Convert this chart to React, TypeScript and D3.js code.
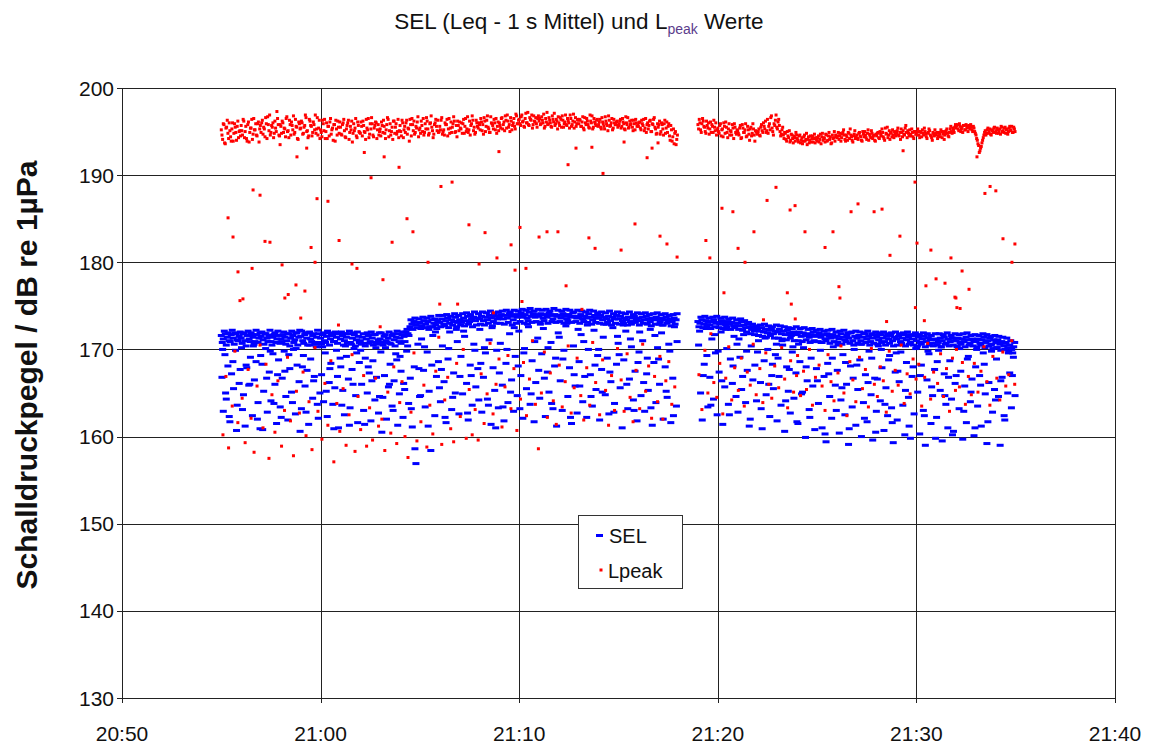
import React from "react";
import * as d3 from "d3";

// Lpeak main band, two interleaved series sampled every 4 s (offset 0 s and 2 s), one row per minute
const lpeakBand1Start = 55; // 20:55:00
const lpeakBand1: number[] = [
  195.2,194.1,195.8,193.6,195.5,194.8,196.0,194.4,195.3,193.9,195.9,194.9,195.6,194.3,195.1,
  195.7,194.6,196.2,195.0,194.2,195.8,193.8,195.4,196.4,194.7,195.2,195.9,194.5,196.1,195.3,
  194.9,196.3,195.5,194.4,195.9,196.7,195.1,194.6,195.7,196.0,194.8,195.4,197.3,195.8,194.5,
  195.6,196.2,194.9,195.3,196.5,195.0,194.3,195.8,196.1,195.2,194.7,196.4,195.5,194.1,195.9,
  195.4,196.0,194.8,195.7,196.6,195.1,194.5,196.2,195.6,194.9,195.8,196.9,195.3,194.6,196.3,
  195.2,194.4,195.9,196.4,195.0,194.2,195.6,196.1,194.7,195.4,195.8,193.9,195.3,196.2,194.8,
  195.5,194.6,196.0,195.1,194.3,195.7,196.3,194.9,195.2,193.8,195.9,195.4,194.5,196.1,195.0,
  194.8,195.6,196.2,195.0,194.1,195.4,196.5,194.7,195.3,195.9,194.4,195.7,196.0,195.2,194.6,
  195.3,196.1,194.9,195.6,194.2,195.8,196.4,195.1,194.6,195.5,196.2,194.8,195.9,195.0,194.3,
  195.7,194.5,196.0,195.2,194.9,196.3,195.4,193.9,195.8,196.5,195.1,194.7,195.6,196.1,194.4,
  195.4,196.2,195.0,194.6,195.9,196.6,195.3,194.8,196.0,195.5,194.3,195.8,196.4,195.1,194.9,
  195.6,196.3,194.7,195.2,196.0,195.8,194.5,196.5,195.4,194.9,195.9,196.2,195.0,194.4,195.7,
  196.1,195.3,194.8,196.4,195.6,195.0,196.7,195.2,194.6,195.9,196.3,195.5,194.9,196.0,195.4,
  195.8,196.5,195.1,194.7,196.2,195.6,196.8,195.3,194.9,196.0,195.7,196.4,195.2,194.8,196.1,
  196.0,195.4,196.6,195.8,195.1,196.3,196.9,195.5,195.0,196.2,195.7,196.5,195.3,196.8,195.9,
  196.4,195.7,196.9,196.2,195.5,197.1,196.0,195.8,196.6,196.3,195.4,196.8,196.1,195.9,196.5,
  196.2,195.8,196.7,196.0,195.4,196.5,197.2,195.9,196.3,195.6,196.8,196.1,195.7,196.4,195.3,
  196.0,196.6,195.5,196.3,195.9,196.9,195.7,196.2,195.4,196.5,195.8,197.0,196.1,195.6,196.4,
  195.9,196.3,195.6,196.7,195.2,196.0,196.5,195.8,195.4,196.2,196.8,195.5,196.1,195.7,196.4,
  195.8,196.4,195.3,196.1,195.6,196.7,195.9,195.1,196.3,195.7,196.5,195.4,196.0,195.8,196.2,
  195.7,196.2,195.4,196.5,195.9,195.2,196.0,196.6,195.5,195.8,196.3,195.1,195.9,196.4,195.6,
  195.6,196.1,195.2,195.9,196.4,195.4,194.9,196.0,195.7,196.3,195.0,195.8,196.6,195.3,194.8,
  195.5,196.2,195.0,195.8,194.6,196.3,195.4,194.9,195.9,194.0,195.2,194.4,193.6,195.0,194.1,
];
const lpeakBand1b: number[] = [
  194.6,195.9,193.7,195.4,196.3,194.2,195.1,193.9,196.0,194.8,195.5,194.0,196.2,195.0,194.5,
  195.1,196.4,194.3,195.6,193.9,196.1,194.9,195.4,194.1,196.5,195.2,194.6,195.9,193.8,195.7,
  196.0,194.7,195.3,196.6,194.2,195.8,196.9,194.9,195.5,194.3,196.2,195.0,196.5,194.6,195.8,
  194.8,196.0,195.4,194.4,196.7,195.1,196.3,194.6,195.7,196.8,194.9,195.6,194.2,196.1,195.3,
  196.2,194.7,195.5,196.9,195.0,194.3,196.4,195.7,194.5,196.1,195.2,194.8,196.6,195.4,194.2,
  194.9,196.3,195.1,194.2,196.0,195.6,194.5,196.5,195.2,194.0,195.8,196.3,194.6,195.5,196.1,
  194.7,195.8,196.4,194.4,195.3,196.0,194.1,195.6,196.2,194.8,195.1,196.5,194.3,195.7,194.9,
  196.1,194.5,195.7,194.9,196.4,195.2,194.3,195.9,196.6,194.6,195.4,196.1,194.2,195.8,195.0,
  194.5,195.7,196.3,194.8,195.2,196.6,194.4,195.9,195.0,194.1,196.2,195.5,194.7,196.4,195.1,
  195.0,196.3,194.3,195.6,196.0,194.7,195.3,196.4,194.5,195.8,196.2,194.9,195.4,196.7,195.2,
  194.8,195.7,196.5,194.9,195.3,196.2,194.6,195.9,196.8,195.1,194.7,196.0,195.6,196.3,195.0,
  195.2,196.6,195.0,194.6,195.8,196.4,195.3,194.8,196.1,195.5,196.7,194.9,195.7,196.2,195.1,
  195.4,196.0,195.9,194.8,196.5,195.3,194.9,196.2,195.7,196.8,195.1,194.7,196.3,195.6,196.0,
  195.2,196.1,195.8,196.6,195.0,196.3,195.5,194.9,196.7,195.9,195.3,196.0,196.5,195.6,195.1,
  195.7,196.5,195.3,196.1,196.8,195.4,196.2,195.8,196.6,195.2,196.0,195.6,197.0,195.9,196.3,
  195.9,196.7,196.1,195.6,196.5,196.0,197.2,195.7,196.4,196.9,195.8,196.2,196.6,195.5,196.8,
  196.5,195.9,196.3,197.0,195.6,196.1,195.8,196.6,196.0,195.5,196.4,197.1,195.9,196.2,196.7,
  195.7,196.4,196.8,195.5,196.1,195.8,196.5,196.0,196.9,195.6,196.2,195.4,196.6,195.9,196.3,
  196.4,195.6,196.1,195.4,196.6,195.8,196.2,195.5,196.9,196.0,195.3,196.5,195.9,196.3,195.6,
  196.1,195.5,196.6,195.9,195.3,196.2,195.7,196.8,195.6,196.0,195.2,196.4,195.8,196.1,195.5,
  195.9,196.4,195.6,196.1,195.3,196.7,195.8,195.4,196.2,195.9,195.5,196.3,195.2,196.0,195.7,
  196.0,195.4,196.3,195.7,195.1,196.5,195.8,195.3,196.2,195.0,195.9,196.4,195.5,194.7,195.9,
  195.8,194.7,196.0,195.3,195.9,194.8,196.1,195.6,194.5,195.7,193.9,195.3,194.8,193.5,194.6,
];

const lpeakBand2Start = 79; // 21:19:00
const lpeakBand2: number[] = [
  195.8,196.4,195.2,195.9,196.2,195.5,194.8,195.7,196.0,195.3,194.9,195.6,196.3,195.1,194.6,
  195.4,194.8,195.9,195.2,194.4,195.6,196.1,194.9,195.3,194.6,195.0,195.8,194.2,195.5,194.7,
  195.1,194.6,195.7,194.3,195.4,194.9,195.9,194.5,195.2,194.0,195.5,194.8,195.3,193.9,195.0,
  194.7,195.3,194.5,195.8,194.9,195.6,196.2,195.1,194.8,195.9,196.6,195.4,194.6,195.7,196.9,
  195.3,196.4,195.0,194.7,195.5,194.2,194.8,193.9,194.5,195.1,194.0,194.6,193.7,194.3,194.9,
  194.2,193.8,194.6,194.0,193.6,194.4,193.9,194.8,194.1,193.7,194.5,194.2,193.8,194.7,194.3,
  193.9,194.5,194.1,193.6,194.8,194.3,193.8,194.6,194.0,194.9,194.4,193.7,194.2,195.0,194.6,
  194.3,194.9,194.5,193.9,194.7,195.2,194.1,194.6,194.0,194.8,195.3,194.4,193.8,194.7,194.2,
  194.6,194.1,194.9,194.4,193.9,194.7,195.0,194.3,194.8,194.0,194.5,195.1,194.2,194.6,193.9,
  194.5,194.9,194.2,194.7,195.3,194.4,194.0,194.8,195.5,194.6,194.1,194.9,195.2,194.3,194.7,
  194.8,195.4,194.5,194.1,194.9,195.1,194.6,195.7,194.3,194.8,195.2,194.5,194.9,194.2,195.0,
  194.9,195.3,194.6,195.0,194.4,194.8,195.4,194.7,194.2,194.9,195.1,194.5,194.0,194.7,195.2,
  194.6,194.2,194.9,194.4,195.0,194.7,194.1,194.8,195.3,194.5,194.9,195.6,194.8,195.2,195.5,
  195.4,195.8,195.1,195.6,195.3,194.9,195.7,195.2,195.6,195.0,195.5,195.8,195.2,195.6,195.0,
  194.6,194.0,193.4,192.8,193.3,194.0,194.6,195.1,194.8,195.4,195.0,194.7,195.2,194.9,195.5,
  195.1,195.4,194.8,195.3,195.6,195.0,194.9,195.5,195.2,194.7,195.4,195.1,195.6,194.9,195.3,
];
const lpeakBand2b: number[] = [
  195.3,196.0,194.9,196.5,195.6,195.0,196.2,195.4,194.7,196.1,195.8,194.9,195.5,196.0,195.2,
  195.0,195.7,194.5,195.3,196.0,194.8,195.5,194.3,195.9,195.1,194.6,195.4,195.9,194.9,195.2,
  194.8,195.4,194.2,195.8,194.9,195.2,194.4,195.6,194.7,195.3,194.5,195.9,194.6,195.1,194.8,
  195.0,194.6,195.5,195.1,196.0,195.3,194.9,196.4,195.6,195.2,196.8,195.0,195.9,196.3,195.5,
  196.1,195.7,194.5,195.2,194.6,194.9,194.1,195.0,194.3,193.8,194.7,194.2,194.5,193.9,194.6,
  194.0,194.5,193.7,194.3,193.9,194.6,194.1,193.5,194.4,194.0,193.8,194.5,194.2,193.7,194.1,
  194.3,193.8,194.7,194.4,194.0,194.2,194.7,193.9,194.5,194.1,193.6,194.6,194.3,193.9,194.4,
  194.5,194.1,194.8,194.3,194.9,194.6,193.9,194.4,194.9,194.2,194.6,194.0,194.5,195.1,194.4,
  194.2,194.8,194.5,194.0,195.0,194.4,194.6,194.1,195.2,194.7,194.3,194.8,194.5,194.0,194.7,
  194.8,194.3,195.0,194.5,194.9,194.2,195.4,194.7,194.3,195.1,194.8,194.4,194.6,195.0,194.5,
  195.1,194.6,194.9,195.3,194.4,194.7,195.4,194.9,195.1,194.5,194.7,195.3,194.4,195.0,194.7,
  194.6,195.0,194.3,194.9,195.2,194.6,195.0,194.4,194.8,195.3,194.6,194.3,194.9,194.5,194.8,
  194.9,194.5,194.7,195.2,194.3,195.0,194.6,195.1,194.8,194.4,195.3,195.0,195.4,194.9,195.8,
  195.7,195.3,195.9,195.0,195.5,195.7,195.2,195.8,195.4,195.7,195.3,195.5,195.0,195.4,194.8,
  194.2,193.6,192.6,193.1,193.7,194.3,194.9,194.6,195.2,194.8,195.3,194.6,195.1,195.4,194.9,
  194.8,195.2,195.0,194.7,195.5,195.1,195.4,194.8,195.3,195.0,195.6,195.2,194.9,195.5,195.0,
];

// SEL main band, two interleaved series sampled every 6 s (offset 0 s and 3 s), one row per minute
const selBand1Start = 55;
const selBand1: number[] = [
  171.6,171.2,171.8,171.4,171.0,171.7,171.3,171.9,171.1,171.5,
  171.3,171.8,171.0,171.6,171.2,171.9,171.4,170.9,171.7,171.3,
  171.5,171.1,171.8,171.3,171.6,170.9,171.4,171.9,171.2,171.6,
  171.2,171.7,171.4,171.0,171.8,171.3,171.6,171.1,171.9,171.4,
  171.5,171.0,171.7,171.3,171.9,171.2,171.6,170.8,171.4,171.8,
  171.3,171.7,171.0,171.5,171.9,171.2,171.6,170.9,171.4,171.8,
  171.2,171.6,171.0,171.4,171.8,170.8,171.3,171.7,171.1,171.5,
  171.0,171.4,170.7,171.2,171.6,170.9,171.3,171.7,170.8,171.1,
  171.2,170.8,171.5,171.0,171.3,170.7,171.6,171.1,171.4,171.8,
  171.3,171.7,171.5,172.0,171.8,172.6,172.9,173.2,172.8,173.1,
  173.0,172.7,173.3,172.9,173.2,172.6,173.4,173.0,172.8,173.3,
  173.1,173.5,172.9,173.3,173.6,173.0,173.4,173.2,173.7,173.1,
  173.4,173.1,173.6,173.3,173.8,173.2,173.5,173.7,173.3,173.6,
  173.5,173.8,173.3,173.7,173.4,173.9,173.6,173.2,173.8,173.5,
  173.7,174.0,173.5,173.9,173.6,174.1,173.8,173.4,174.0,173.7,
  173.9,174.2,173.7,174.0,173.6,174.3,173.8,174.1,173.7,174.0,
  173.8,174.1,173.6,174.0,173.7,174.2,173.9,173.5,174.0,173.8,
  173.9,173.6,174.1,173.8,173.5,174.0,173.7,174.2,173.8,173.6,
  173.7,174.0,173.5,173.8,173.6,174.1,173.7,173.4,173.9,173.6,
  173.6,173.9,173.4,173.7,173.5,173.8,173.3,173.7,173.5,173.9,
  173.5,173.8,173.3,173.6,173.4,173.7,173.2,173.6,173.8,173.4,
  173.6,173.3,173.7,173.4,173.8,173.5,173.2,173.6,173.4,173.7,
  173.5,173.2,173.6,173.4,173.7,173.3,173.5,173.2,173.6,173.4,
];
const selBand1b: number[] = [
  170.8,172.1,170.5,171.9,170.9,172.2,170.6,171.8,171.0,172.0,
  170.7,171.9,170.4,172.1,170.9,171.7,170.6,172.2,170.8,171.9,
  172.0,170.6,171.8,170.9,172.2,170.5,171.7,170.8,172.1,170.7,
  170.9,172.0,170.6,171.8,170.4,172.1,170.8,171.9,170.5,172.2,
  172.1,170.7,171.9,170.5,172.0,170.9,171.8,170.6,172.2,170.8,
  170.6,171.9,170.8,172.1,170.5,171.8,170.9,172.0,170.7,171.9,
  172.0,170.5,171.8,170.7,172.1,170.6,171.9,170.4,172.0,170.8,
  170.6,171.8,170.4,171.9,170.7,172.0,170.5,171.7,170.6,171.9,
  171.9,170.5,171.7,170.8,172.0,170.6,171.8,170.4,172.1,170.9,
  170.7,172.0,170.9,172.3,171.6,173.4,172.3,173.6,172.5,173.5,
  172.4,173.7,172.5,173.6,172.3,173.8,172.6,173.5,172.4,173.9,
  172.6,173.9,172.7,174.0,172.5,173.8,172.8,174.1,172.6,173.9,
  172.8,174.1,172.7,174.2,172.9,174.0,172.6,174.3,172.8,174.1,
  172.9,174.3,172.8,174.2,173.0,174.4,172.7,174.1,173.0,174.3,
  173.0,174.4,172.9,174.5,173.1,174.3,172.8,174.5,173.0,174.4,
  173.2,174.6,173.0,174.5,173.3,174.7,173.1,174.4,173.2,174.6,
  173.1,174.5,173.3,174.6,173.0,174.4,173.2,174.7,173.1,174.5,
  173.2,174.4,173.0,174.6,173.3,174.5,173.1,174.3,173.2,174.5,
  173.0,174.4,173.2,174.3,173.1,174.5,172.9,174.4,173.1,174.2,
  173.0,174.3,172.9,174.2,173.1,174.4,172.8,174.1,173.0,174.3,
  172.9,174.2,173.0,174.1,172.8,174.3,172.9,174.0,173.1,174.2,
  172.8,174.1,173.0,174.2,172.9,174.0,172.7,174.1,172.9,174.2,
  172.9,174.0,172.8,174.1,173.0,173.9,172.7,174.0,172.9,174.1,
];

const selBand2Start = 79;
const selBand2: number[] = [
  173.2,173.0,173.4,172.9,173.3,173.1,172.8,173.2,173.4,173.0,
  173.1,172.9,173.3,173.0,172.8,173.2,172.9,173.1,172.7,173.0,
  173.0,172.7,173.2,172.8,172.5,172.9,172.6,172.3,172.6,172.2,
  172.4,172.1,172.5,172.0,172.3,171.9,172.2,172.4,171.8,172.1,
  172.0,172.3,171.8,172.1,171.7,172.2,171.9,171.6,172.0,171.8,
  171.7,172.0,171.5,171.9,171.6,171.8,171.4,171.7,172.0,171.5,
  171.6,171.9,171.4,171.7,171.2,171.8,171.5,171.3,171.7,171.4,
  171.5,171.2,171.8,171.4,171.1,171.6,171.3,171.9,171.0,171.5,
  171.3,171.6,171.0,171.4,171.8,171.2,171.5,170.9,171.3,171.7,
  171.4,171.1,171.7,171.3,170.9,171.5,171.2,171.6,171.0,171.4,
  171.2,171.5,170.9,171.3,171.7,171.1,171.4,170.8,171.2,171.6,
  171.0,171.4,170.8,171.2,171.5,170.9,171.3,171.1,170.7,171.2,
  171.1,170.8,171.3,171.0,171.4,170.7,171.2,170.9,171.3,171.0,
  171.0,171.3,170.8,171.2,170.9,171.4,171.1,170.7,171.2,171.0,
  170.9,171.2,170.7,171.1,171.4,170.8,171.0,171.3,170.6,171.1,
  170.8,171.1,170.6,170.9,170.4,170.7,170.2,170.5,170.0,170.3,
];
const selBand2b: number[] = [
  172.6,173.7,172.5,173.8,172.7,173.6,172.4,173.7,172.6,173.8,
  172.5,173.6,172.4,173.7,172.6,173.5,172.3,173.6,172.5,173.4,
  172.3,173.5,172.2,173.3,172.0,173.1,171.8,172.9,171.7,172.7,
  171.6,172.8,171.5,172.9,171.4,172.7,171.6,172.6,171.3,172.8,
  171.3,172.7,171.2,172.6,171.1,172.5,171.3,172.4,171.0,172.6,
  171.0,172.4,170.9,172.5,171.1,172.3,170.8,172.4,171.0,172.2,
  170.9,172.3,170.8,172.1,171.0,172.2,170.7,172.3,170.9,172.0,
  170.8,172.1,170.6,172.2,170.9,171.9,170.7,172.0,170.5,172.1,
  170.7,172.0,170.6,171.9,170.8,172.1,170.5,171.8,170.7,172.0,
  170.6,171.9,170.8,172.0,170.5,171.8,170.7,171.9,170.4,172.0,
  170.5,171.8,170.7,171.9,170.4,172.0,170.6,171.7,170.5,171.9,
  170.4,171.7,170.6,171.9,170.3,171.8,170.5,171.6,170.4,171.8,
  170.5,171.8,170.3,171.7,170.6,171.9,170.4,171.6,170.5,171.8,
  170.4,171.7,170.6,171.8,170.3,171.9,170.5,171.6,170.4,171.7,
  170.3,171.6,170.5,171.8,170.2,171.7,170.4,171.5,170.1,171.6,
  170.2,171.5,169.9,171.4,170.0,171.3,169.8,171.0,169.6,170.8,
];

// SEL seconds below the main band: [minute after 20:00, second, dB, second, dB, ...]
const selLow: number[][] = [
  [55, 2,166.8, 6,162.9, 11,169.4, 15,164.3, 20,168.1, 26,161.7, 31,167.2, 37,165.5, 43,169.9, 48,163.6, 54,166.1],
  [56, 1,170.2, 7,164.8, 12,161.2, 17,167.9, 23,165.9, 28,169.1, 34,162.4, 40,166.5, 45,168.6, 51,163.9, 57,160.9],
  [57, 3,168.3, 8,165.2, 14,170.1, 19,162.8, 25,167.4, 30,164.1, 36,169.5, 42,166.0, 47,161.5, 53,168.8, 58,163.4],
  [58, 4,166.7, 10,169.8, 15,164.6, 21,161.9, 27,167.8, 32,165.1, 38,170.0, 44,162.6, 49,168.2, 55,166.3],
  [59, 2,163.2, 8,169.3, 13,165.8, 19,167.6, 24,161.4, 30,168.9, 36,164.4, 41,166.9, 47,170.3, 53,162.1, 58,165.0],
  [60, 3,167.1, 9,164.0, 14,169.6, 20,162.3, 26,166.2, 31,168.4, 37,163.7, 43,165.6, 48,169.9, 54,161.0],
  [61, 1,168.0, 7,165.3, 12,162.5, 18,169.2, 24,166.6, 29,163.3, 35,167.7, 41,170.1, 46,164.7, 52,161.6, 57,168.5],
  [62, 4,166.0, 10,163.0, 15,169.0, 21,165.0, 27,167.3, 32,161.8, 38,168.7, 44,164.2, 49,166.8, 55,162.7],
  [63, 2,169.7, 8,164.5, 13,167.0, 19,162.0, 25,165.7, 30,168.3, 36,163.5, 42,166.4, 47,169.5, 53,161.3, 58,164.9],
  [64, 3,167.5, 9,162.2, 14,165.4, 20,169.8, 26,163.8, 31,166.7, 37,161.1, 43,168.0, 48,156.9, 54,170.6, 59,164.6],
  [65, 5,171.2, 11,167.6, 16,163.4, 22,169.7, 28,165.2, 33,158.4, 39,171.6, 45,162.4, 50,166.9, 56,168.6],
  [66, 2,164.0, 8,170.4, 13,166.3, 19,161.6, 25,168.9, 30,172.0, 36,163.1, 42,167.3, 47,165.0, 53,170.9, 58,162.6],
  [67, 4,169.2, 9,164.9, 15,171.5, 21,166.1, 26,161.9, 32,168.2, 38,163.6, 43,170.6, 49,165.7, 55,167.8],
  [68, 1,172.3, 7,162.8, 12,166.8, 18,169.6, 24,164.3, 29,171.1, 35,161.4, 41,167.9, 46,165.3, 52,169.9, 57,163.3],
  [69, 3,170.7, 9,165.9, 14,161.8, 20,168.4, 26,163.9, 31,171.8, 37,166.5, 43,162.9, 48,169.2, 54,164.7, 59,172.1],
  [70, 5,167.0, 11,162.1, 16,170.1, 22,165.5, 28,172.6, 33,163.7, 39,168.7, 45,161.7, 50,166.2, 56,171.3],
  [71, 2,164.4, 8,169.5, 13,172.4, 19,162.3, 25,167.4, 30,165.1, 36,170.8, 42,163.2, 47,168.1, 53,161.2, 58,171.9],
  [72, 4,166.4, 10,163.0, 15,169.9, 21,172.7, 27,164.6, 32,167.9, 38,161.5, 44,170.4, 49,165.8, 55,162.7],
  [73, 1,168.6, 7,171.7, 12,164.0, 18,166.9, 24,162.2, 29,170.0, 35,167.1, 41,163.5, 46,172.2, 52,165.4, 57,169.3],
  [74, 3,161.9, 9,167.7, 14,171.4, 20,164.8, 26,169.0, 31,162.6, 37,166.3, 43,172.5, 48,163.8, 54,168.3, 59,170.7],
  [75, 5,165.6, 11,161.0, 16,168.8, 22,172.1, 28,163.2, 33,166.6, 39,170.3, 45,164.2, 50,167.5, 56,161.8],
  [76, 2,169.7, 8,164.7, 13,171.0, 19,162.9, 25,167.2, 30,165.3, 36,172.3, 42,161.3, 47,168.5, 53,163.9, 58,170.2],
  [77, 4,166.0, 10,171.9, 15,162.0, 21,168.0, 27,164.5, 32,170.6, 38,161.6, 44,166.7, 49,172.6, 55,163.5],
  [79, 2,170.5, 8,165.0, 13,161.9, 19,168.3, 25,172.4, 30,163.4, 36,166.8, 42,171.2, 47,164.3, 53,169.6, 58,162.5],
  [80, 4,167.4, 10,172.0, 15,161.4, 21,165.7, 27,170.1, 32,163.7, 38,168.9, 44,166.1, 49,171.5, 55,164.6],
  [81, 1,162.8, 7,169.1, 12,165.4, 18,171.7, 24,163.9, 29,167.6, 35,161.2, 41,170.4, 46,166.5, 52,168.2, 57,164.1],
  [82, 3,171.0, 9,166.2, 14,160.9, 20,168.7, 26,164.8, 31,170.0, 37,162.3, 43,167.0, 48,165.5, 54,169.4, 59,161.8],
  [83, 5,166.9, 11,163.6, 16,170.5, 22,160.6, 28,168.0, 33,165.2, 39,162.7, 45,169.7, 50,164.4, 56,167.3],
  [84, 2,161.5, 8,168.6, 13,164.9, 19,170.2, 25,159.9, 30,166.4, 36,163.1, 42,169.0, 47,165.8, 53,160.8, 58,167.8],
  [85, 4,163.8, 10,169.9, 15,161.0, 21,166.9, 27,159.4, 32,168.4, 38,164.6, 44,162.1, 49,170.3, 55,165.9],
  [86, 1,167.6, 7,160.4, 12,164.2, 18,169.4, 24,162.5, 29,166.0, 35,159.1, 41,168.1, 46,163.4, 52,170.0, 57,161.3],
  [87, 3,165.4, 9,168.8, 14,160.0, 20,163.9, 26,167.1, 31,161.7, 37,169.8, 43,164.8, 48,159.6, 54,166.7, 59,162.9],
  [88, 5,170.4, 11,164.1, 16,167.9, 22,160.7, 28,165.6, 33,162.4, 39,169.3, 45,163.3, 50,159.3, 56,167.4],
  [89, 2,161.9, 8,166.3, 13,169.7, 19,163.6, 25,160.2, 30,168.5, 36,164.5, 42,159.8, 47,166.9, 53,162.6, 58,170.1],
  [90, 4,165.1, 10,160.3, 15,168.2, 21,163.0, 27,159.0, 32,166.5, 38,169.5, 44,161.5, 49,164.7, 55,167.7],
  [91, 1,162.2, 7,169.9, 12,165.3, 18,159.5, 24,167.2, 29,163.7, 35,161.0, 41,168.7, 46,164.3, 52,160.6, 57,166.1],
  [92, 3,170.3, 9,163.2, 14,167.5, 20,159.7, 26,165.8, 31,161.6, 37,169.2, 43,164.0, 48,166.6, 54,160.1, 59,168.0],
  [93, 5,163.5, 11,167.0, 16,161.2, 22,169.6, 28,164.9, 33,159.2, 39,166.2, 45,170.5, 50,162.8, 56,165.4],
  [94, 2,168.9, 8,164.6, 13,159.0, 19,166.8, 25,162.4, 30,170.8, 36,165.0, 42,167.3, 47,163.3, 53,169.1, 58,164.7],
];
const selLow2: number[][] = [
  [55, 4,170.0, 13,165.0, 24,162.3, 35,168.6, 46,160.7, 57,167.7],
  [56, 4,163.1, 15,168.2, 26,166.0, 37,170.4, 49,162.0, 59,169.3],
  [57, 5,160.8, 17,166.7, 28,169.8, 39,163.8, 50,167.1],
  [58, 1,162.2, 12,167.5, 24,169.4, 35,163.9, 46,170.1, 58,160.6],
  [59, 5,168.0, 16,162.8, 27,170.5, 39,166.4, 50,163.7],
  [60, 6,170.3, 17,165.2, 28,167.8, 40,160.9, 51,166.9, 59,169.0],
  [61, 4,163.6, 15,170.4, 27,161.3, 38,166.0, 49,169.6],
  [62, 1,169.9, 13,161.4, 24,168.0, 35,166.4, 47,170.2, 58,164.6],
  [63, 5,160.5, 16,170.2, 28,166.0, 39,163.0, 50,168.8],
  [64, 0,169.2, 11,166.1, 23,170.4, 34,163.2, 45,158.6, 57,167.8],
  [65, 2,164.7, 14,170.3, 25,161.2, 36,168.2, 47,172.0, 59,165.6],
  [66, 5,167.7, 16,162.2, 27,170.1, 39,164.5, 50,172.3],
  [67, 1,166.9, 12,172.1, 24,162.7, 35,167.0, 46,169.9, 58,164.2],
  [68, 4,168.4, 15,170.2, 27,163.6, 38,172.5, 49,161.0],
  [69, 0,167.3, 11,163.4, 23,170.0, 34,165.1, 45,172.5, 57,168.1],
  [70, 2,163.2, 14,169.6, 25,172.9, 36,164.9, 47,170.9, 59,167.6],
  [71, 4,172.9, 16,166.7, 27,170.2, 38,163.8, 50,169.0],
  [72, 1,171.4, 12,168.9, 24,173.0, 35,162.2, 46,167.1, 58,172.3],
  [73, 3,165.8, 15,170.9, 26,172.8, 37,164.6, 49,168.2],
  [74, 0,170.0, 11,165.1, 23,172.9, 34,167.4, 46,162.8, 57,171.5],
  [75, 2,169.4, 14,172.8, 25,166.0, 36,171.2, 47,163.0, 59,168.5],
  [76, 4,172.0, 16,166.2, 27,169.0, 38,163.3, 50,171.6],
  [77, 1,168.9, 12,172.8, 24,165.2, 35,169.8, 46,162.4, 57,170.9],
  [79, 5,172.1, 16,167.0, 27,169.3, 39,163.6, 50,171.7],
  [80, 1,169.8, 12,166.4, 24,172.3, 35,162.5, 46,168.1, 58,170.6],
  [81, 4,171.2, 15,166.9, 27,169.8, 38,162.0, 50,172.1],
  [82, 0,169.7, 11,163.2, 23,171.3, 34,166.0, 45,168.3, 57,170.6],
  [83, 2,169.0, 14,171.0, 25,164.1, 36,167.7, 47,170.3, 59,161.7],
  [84, 4,170.6, 16,165.1, 27,168.0, 38,162.2, 50,170.9],
  [85, 1,166.4, 12,170.8, 24,160.3, 35,167.2, 46,169.0, 58,163.0],
  [86, 3,170.5, 15,165.6, 26,168.5, 37,160.9, 49,166.7],
  [87, 0,168.2, 11,170.6, 23,162.1, 34,166.2, 45,169.0, 57,160.5],
  [88, 2,166.6, 14,170.0, 25,163.7, 36,168.8, 47,161.6, 59,169.6],
  [89, 4,167.5, 16,170.6, 27,165.3, 38,161.2, 50,168.0],
  [90, 1,170.2, 12,167.0, 24,162.4, 35,169.8, 46,165.7, 58,159.8],
  [91, 3,168.6, 15,170.3, 26,164.7, 37,166.8, 49,160.2],
  [92, 0,167.0, 11,170.1, 23,162.9, 34,168.9, 45,165.1, 57,161.0],
  [93, 2,170.0, 14,165.9, 25,168.3, 36,161.7, 47,169.8, 59,164.2],
  [94, 4,170.2, 15,166.4, 27,161.9, 38,169.6, 50,167.0],
];

// Lpeak seconds that fall into the SEL range: [minute, second, dB, ...]
const lpeakLow: number[][] = [
  [55, 5,160.2, 14,166.9, 22,158.7, 33,163.5, 41,169.8, 50,161.6],
  [56, 3,164.4, 12,159.3, 21,167.7, 30,162.1, 39,158.2, 48,165.8, 57,170.5],
  [57, 6,161.0, 15,168.3, 24,157.5, 33,164.8, 42,160.5, 51,166.4],
  [58, 2,158.9, 11,163.0, 20,169.1, 29,161.8, 38,157.8, 47,165.2, 56,162.7],
  [59, 7,167.4, 16,160.1, 25,164.0, 34,158.5, 43,170.2, 52,162.9],
  [60, 4,159.7, 13,166.1, 22,161.3, 31,168.7, 40,157.1, 49,163.8, 58,160.6],
  [61, 8,165.5, 17,159.0, 26,162.5, 35,169.4, 44,158.3, 53,164.6],
  [62, 1,160.8, 10,167.0, 19,158.9, 28,163.3, 37,159.6, 46,166.7, 55,161.2],
  [63, 5,162.0, 14,158.4, 23,165.1, 32,160.4, 41,168.0, 50,159.2, 59,163.9],
  [64, 6,166.3, 15,160.0, 24,157.6, 33,162.8, 42,169.6, 51,159.5],
  [65, 3,161.7, 12,165.9, 21,158.8, 30,163.6, 39,160.3, 48,167.5, 57,171.4],
  [66, 6,159.1, 15,164.2, 24,166.8, 33,160.9, 42,159.4, 51,168.4],
  [67, 2,162.3, 11,170.0, 20,159.8, 29,165.4, 38,160.2, 47,163.1, 56,159.6],
  [68, 5,167.2, 14,161.5, 23,164.9, 32,170.7, 41,162.6, 50,166.0, 59,168.9],
  [69, 8,161.1, 17,165.7, 26,169.3, 35,163.2, 44,167.8, 53,160.7],
  [70, 4,164.3, 13,168.5, 22,162.4, 31,166.6, 40,171.0, 49,163.7, 58,158.6],
  [71, 7,165.0, 16,169.7, 25,162.2, 34,167.3, 43,164.1, 52,161.4],
  [72, 1,168.2, 10,163.4, 19,166.3, 28,170.4, 37,162.7, 46,165.6, 55,169.0],
  [73, 6,164.7, 15,161.9, 24,167.9, 33,163.6, 42,170.8, 51,166.2],
  [74, 3,162.5, 12,168.8, 21,165.3, 30,161.3, 39,167.0, 48,163.0, 57,170.1],
  [75, 8,166.5, 17,162.9, 26,169.5, 35,164.5, 44,161.7, 53,167.6],
  [76, 4,163.2, 13,170.6, 22,165.2, 31,168.1, 40,162.1, 49,166.9, 58,164.0],
  [77, 5,169.2, 14,162.0, 23,166.4, 32,168.6, 41,163.7, 50,165.7],
  [79, 3,167.1, 12,163.1, 21,169.9, 30,165.0, 39,171.8, 48,166.2, 57,164.5],
  [80, 6,168.4, 15,162.6, 24,166.7, 33,170.3, 42,164.2, 51,167.9],
  [81, 2,165.3, 11,169.0, 20,163.5, 29,167.4, 38,165.9, 47,170.6, 56,164.8],
  [82, 7,167.8, 16,163.9, 25,169.6, 34,166.0, 43,164.4, 52,168.1],
  [83, 4,165.6, 13,170.2, 22,166.6, 31,163.3, 40,168.7, 49,165.1, 58,167.0],
  [84, 1,169.3, 10,164.7, 19,167.5, 28,165.4, 37,170.0, 46,163.6, 55,166.8],
  [85, 6,168.2, 15,165.8, 24,163.0, 33,169.4, 42,166.3, 51,164.1],
  [86, 3,167.3, 12,170.4, 21,165.0, 30,162.4, 39,168.6, 48,166.5, 57,164.0],
  [87, 8,169.1, 17,165.5, 26,167.7, 35,163.4, 44,170.1, 53,166.0],
  [88, 2,164.6, 11,168.0, 20,166.4, 29,162.8, 38,169.8, 47,165.2, 56,167.6],
  [89, 5,165.9, 14,170.5, 23,163.8, 32,167.2, 41,164.9, 50,168.9, 59,166.6],
  [90, 7,168.3, 16,163.5, 25,166.8, 34,170.7, 43,164.3, 52,167.4],
  [91, 4,166.1, 13,169.5, 22,164.6, 31,167.8, 40,162.9, 49,169.0, 58,165.3],
  [92, 1,170.0, 10,165.7, 19,168.5, 28,163.7, 37,166.9, 46,164.8, 55,168.4],
  [93, 6,165.1, 15,167.5, 24,170.3, 33,166.3, 42,163.6, 51,169.2],
  [94, 3,166.7, 12,164.2, 21,169.7, 30,165.8, 39,167.1, 48,171.0, 57,166.0],
];

// Isolated Lpeak values between the two bands: [minute after 20:00 (decimal), dB]
const lpeakMid: [number, number][] = [
  [55.34,185.1],[55.59,182.9],[55.84,178.9],[55.94,175.6],[56.09,175.8],[56.55,179.3],[56.6,188.3],
  [56.95,187.7],[57.2,182.4],[57.45,182.3],[57.96,193.5],[58.06,179.7],[58.2,175.9],[58.37,176.3],
  [58.76,177.4],[58.81,192.1],[59.0,173.6],[59.21,176.7],[59.3,193.1],[59.52,181.7],[59.72,180.0],
  [59.82,187.3],[60.37,187.0],[60.9,172.8],[60.93,182.5],[61.58,179.8],[61.83,179.3],[62.2,192.6],
  [62.54,189.7],[63.0,172.6],[63.14,178.0],[63.2,192.1],[63.6,182.3],[63.95,190.9],[64.35,185.0],
  [64.65,183.5],[65.41,180.0],[66.0,175.2],[66.06,188.7],[66.62,189.2],[66.9,175.2],[67.47,184.3],
  [67.98,179.8],[68.28,183.4],[68.7,174.2],[68.88,180.5],[68.98,192.7],[69.59,182.0],[69.79,179.1],
  [70.04,184.0],[70.14,175.5],[70.34,179.3],[71.0,182.9],[71.4,183.5],[71.95,183.5],[72.36,177.3],
  [72.46,191.2],[72.86,193.1],[73.16,174.6],[73.51,182.8],[73.66,193.2],[73.82,181.6],[74.22,190.2],
  [75.13,181.4],[75.28,193.8],[75.83,184.4],[76.44,192.0],[76.69,193.1],[76.99,193.7],[77.09,183.0],
  [77.44,182.1],[77.95,180.6],
  [79.4,182.5],[79.6,180.5],[80.21,186.2],[80.31,176.5],[80.76,185.8],[81.02,181.6],[81.37,180.0],
  [81.82,183.5],[82.3,173.4],[82.48,187.1],[82.93,188.6],[83.5,176.5],[83.64,186.0],[83.7,175.2],
  [83.89,186.5],[83.9,173.5],[84.39,183.5],[85.4,181.7],[85.8,183.5],[86.1,177.2],[86.15,175.9],
  [86.71,185.8],[87.06,186.7],[87.87,185.8],[88.27,186.1],[88.5,173.2],[88.67,180.8],[89.17,183.0],
  [89.33,192.8],[89.93,189.2],[89.95,174.8],[90.03,182.2],[90.4,173.3],[90.48,177.3],[90.73,181.4],
  [90.99,178.1],[91.44,177.6],[91.74,180.5],[91.94,176.0],[91.99,175.9],[92.04,174.8],[92.2,174.7],
  [92.3,179.0],[92.65,176.9],[93.05,192.1],[93.45,187.9],[93.71,188.7],[94.0,188.2],[94.36,182.7],
  [94.81,180.0],[94.96,182.1],
];

const yTicks = [130, 140, 150, 160, 170, 180, 190, 200];

type Pt = { t: Date; v: number };

const base = new Date(2000, 0, 1, 20, 0, 0).getTime();
const at = (minutes: number) => new Date(base + Math.round(minutes * 60000));

const fromBand = (start: number, stepSec: number, values: number[]): Pt[] =>
  values.map((v, i) => ({ t: at(start + (i * stepSec) / 60), v }));

const fromRows = (rows: number[][]): Pt[] =>
  rows.flatMap(([minute, ...rest]) => {
    const out: Pt[] = [];
    for (let i = 0; i + 1 < rest.length; i += 2) out.push({ t: at(minute + rest[i] / 60), v: rest[i + 1] });
    return out;
  });

const selPoints: Pt[] = [
  ...fromRows(selLow),
  ...fromRows(selLow2),
  ...fromBand(selBand1Start, 6, selBand1),
  ...fromBand(selBand1Start + 3 / 60, 6, selBand1b),
  ...fromBand(selBand2Start, 6, selBand2),
  ...fromBand(selBand2Start + 3 / 60, 6, selBand2b),
];
const lpeakPoints: Pt[] = [
  ...fromBand(lpeakBand1Start, 4, lpeakBand1),
  ...fromBand(lpeakBand1Start + 2 / 60, 4, lpeakBand1b),
  ...fromBand(lpeakBand2Start, 4, lpeakBand2),
  ...fromBand(lpeakBand2Start + 2 / 60, 4, lpeakBand2b),
  ...fromRows(lpeakLow),
  ...lpeakMid.map(([m, v]) => ({ t: at(m), v })),
];

const PLOT = { left: 122, right: 1115, top: 88, bottom: 698 };
const FONT = "'Liberation Sans', Arial, sans-serif";
const SEL_COLOR = "#0000ff";
const LPEAK_COLOR = "#ff0000";
const GRID = "#222";
const SEL_W = 7, SEL_H = 3, LP = 3;

export default function App() {
  const x = d3.scaleTime().domain([at(50), at(100)]).range([PLOT.left, PLOT.right]);
  const y = d3.scaleLinear().domain([130, 200]).range([PLOT.bottom, PLOT.top]);
  const xTicks = x.ticks(d3.timeMinute.every(10)!);
  const fmt = d3.timeFormat("%H:%M");
  const snap = (v: number) => Math.round(v) + 0.5;

  return (
    <div style={{ position: "absolute", left: 0, top: 0 }}>
      <svg width={1152} height={746} style={{ display: "block", background: "#fff" }}>
        <text x={579} y={29} textAnchor="middle" fontFamily={FONT} fontSize={22.5} fill="#111">
          SEL (Leq - 1 s Mittel) und L
          <tspan fontSize={14} dy={5} fill="#5b3c8c">peak</tspan>
          <tspan dy={-5}> Werte</tspan>
        </text>

        {yTicks.map((t) => (
          <g key={`y${t}`}>
            <line x1={PLOT.left - 5} x2={PLOT.right} y1={snap(y(t))} y2={snap(y(t))} stroke={GRID} strokeWidth={1} />
            <text x={114} y={y(t) + 7.5} textAnchor="end" fontFamily={FONT} fontSize={21} fill="#111">{t}</text>
          </g>
        ))}
        {xTicks.map((t) => (
          <g key={`x${+t}`}>
            <line x1={snap(x(t))} x2={snap(x(t))} y1={PLOT.top} y2={PLOT.bottom + 5} stroke={GRID} strokeWidth={1} />
            <text x={x(t)} y={741} textAnchor="middle" fontFamily={FONT} fontSize={21} fill="#111">{fmt(t)}</text>
          </g>
        ))}

        <g fill={SEL_COLOR}>
          {selPoints.map((p, i) => (
            <rect key={`s${i}`} x={x(p.t) - SEL_W / 2} y={y(p.v) - SEL_H / 2} width={SEL_W} height={SEL_H} />
          ))}
        </g>
        <g fill={LPEAK_COLOR}>
          {lpeakPoints.map((p, i) => (
            <rect key={`l${i}`} x={x(p.t) - LP / 2} y={y(p.v) - LP / 2} width={LP} height={LP} />
          ))}
        </g>

        <text transform="translate(37,375) rotate(-90)" textAnchor="middle" fontFamily={FONT} fontSize={30} fontWeight="bold" fill="#111">
          Schalldruckpegel / dB re 1µPa
        </text>

        <g>
          <rect x={578.5} y={515.5} width={104} height={73} fill="#fff" stroke="#333" strokeWidth={1} />
          <rect x={596} y={534} width={SEL_W} height={SEL_H} fill={SEL_COLOR} />
          <text x={609} y={543} fontFamily={FONT} fontSize={20} fill="#111">SEL</text>
          <rect x={599.5} y={568.5} width={LP} height={LP} fill={LPEAK_COLOR} />
          <text x={608} y={578} fontFamily={FONT} fontSize={20} fill="#111">Lpeak</text>
        </g>
      </svg>
    </div>
  );
}
